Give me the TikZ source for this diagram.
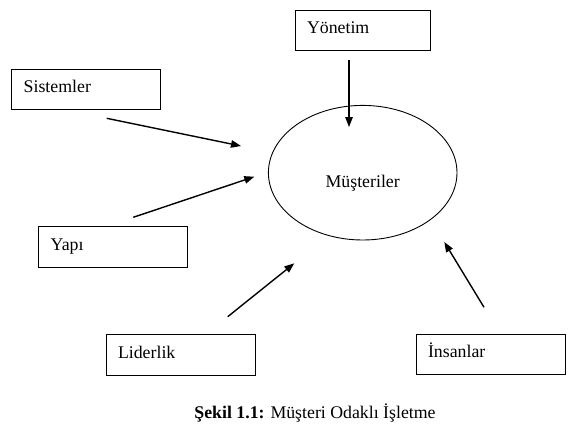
\documentclass[tikz,border=0pt]{standalone}
\usepackage{fontspec}
\setmainfont{Liberation Serif}
\usetikzlibrary{shapes.geometric,arrows.meta,calc}
\begin{document}
\begin{tikzpicture}[x=1pt,y=-1pt,
  every node/.style={font=\fontsize{17.8pt}{21pt}\selectfont},
  box/.style={draw, line width=0.9pt, inner xsep=12pt, inner ysep=0pt,
    text height=23.5pt, text depth=17pt, align=left},
  arr/.style={line width=1.4pt, -{Triangle[length=10pt,width=7.5pt]}}]
\useasboundingbox (0,0) rectangle (572,436);
% boxes
\node[box, text width=111pt] (yon) at (362.5,30.7) {Yönetim};
\node[box, text width=124.6pt] (sis) at (86,89.5) {Sistemler};
\node[box, text width=124.6pt] (yap) at (113,247) {Yapı};
\node[box, text width=125pt] (lid) at (180.5,355) {Liderlik};
\node[box, text width=125pt] (ins) at (490.5,354.5) {İnsanlar};
% ellipse
\node[draw, ellipse, line width=0.9pt, inner sep=0pt, minimum width=188.6pt,
  minimum height=134.6pt, text height=35pt, text depth=5pt] (cust) at (362.7,172.7) {Müşteriler};
% arrow ends
\coordinate (yonA) at (349,60);   \coordinate (yonB) at (349,127);
\coordinate (sisA) at (106.7,118.3); \coordinate (sisB) at (241,146);
\coordinate (yapA) at (133.3,217.3); \coordinate (yapB) at (254.3,176.7);
\coordinate (lidA) at (227.7,316.7); \coordinate (lidB) at (294.3,263.3);
\coordinate (insA) at (484,307.3); \coordinate (insB) at (444.3,242);
\draw[arr] (yonA) -- (yonB);
\draw[arr] (sisA) -- (sisB);
\draw[arr] (yapA) -- (yapB);
\draw[arr] (lidA) -- (lidB);
\draw[arr] (insA) -- (insB);
% caption
\node[anchor=base, inner sep=0pt] (cap) at (315,418) {\textbf{Şekil 1.1:} Müşteri Odaklı İşletme};
\end{tikzpicture}
\end{document}
